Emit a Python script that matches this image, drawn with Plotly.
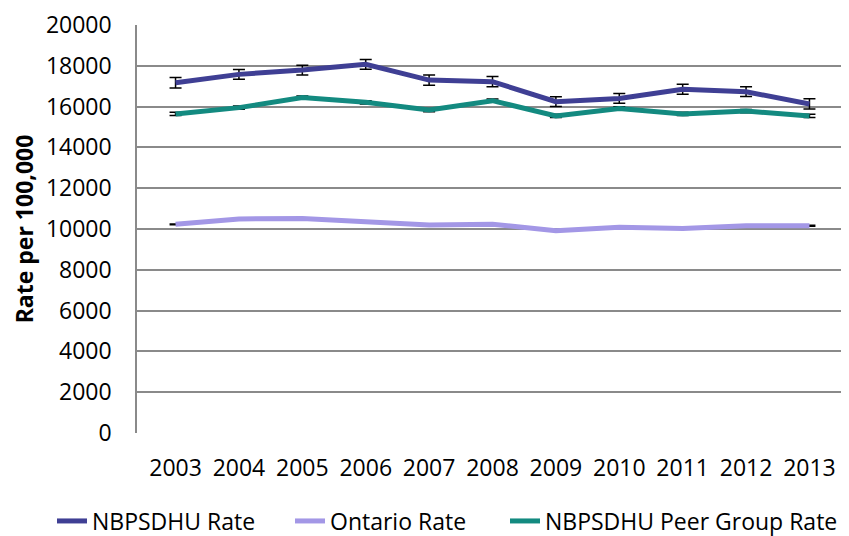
import plotly.graph_objects as go

years = ["2003", "2004", "2005", "2006", "2007", "2008", "2009", "2010", "2011", "2012", "2013"]
nbpsdhu = [17170, 17580, 17790, 18070, 17300, 17220, 16240, 16400, 16850, 16730, 16130]
nbpsdhu_err = [260, 240, 240, 240, 250, 250, 240, 240, 240, 240, 250]
ontario = [10230, 10490, 10520, 10360, 10200, 10230, 9920, 10080, 10030, 10160, 10160]
ontario_err = [20, 20, 20, 20, 20, 20, 20, 20, 20, 20, 20]
peer = [15640, 15950, 16440, 16210, 15830, 16290, 15540, 15910, 15640, 15780, 15540]
peer_err = [80, 80, 80, 80, 80, 80, 80, 80, 80, 80, 80]
y_ticks = [0, 2000, 4000, 6000, 8000, 10000, 12000, 14000, 16000, 18000, 20000]
y_tick_labels = [str(v) for v in y_ticks]

series = [
    ("NBPSDHU Rate", nbpsdhu, nbpsdhu_err, "#3F3F94", "legend"),
    ("Ontario Rate", ontario, ontario_err, "#A397E6", "legend2"),
    ("NBPSDHU Peer Group Rate", peer, peer_err, "#138A80", "legend3"),
]

fig = go.Figure()
for name, vals, err, col, lg in series:
    fig.add_trace(go.Scatter(
        x=years, y=vals, mode="markers",
        marker=dict(size=1, color="rgba(0,0,0,0)"),
        error_y=dict(type="data", array=err, visible=True, color="black", thickness=1.5, width=6),
        showlegend=False, hoverinfo="skip",
    ))
for name, vals, err, col, lg in series:
    fig.add_trace(go.Scatter(
        x=years, y=vals, mode="lines", name=name, legend=lg,
        line=dict(color=col, width=5),
    ))

FIG_W, FIG_H = 841, 528  # page body has an 8px default margin
legend_common = dict(orientation="h", xref="container", yref="container",
                     xanchor="left", yanchor="middle", y=15 / FIG_H,
                     font=dict(size=23), itemwidth=30, bgcolor="rgba(0,0,0,0)")

fig.update_layout(
    width=FIG_W, height=FIG_H,
    margin=dict(l=129, r=1, t=17, b=103, autoexpand=False),
    paper_bgcolor="white", plot_bgcolor="white",
    font=dict(family="Open Sans", size=23, color="black"),
    showlegend=True,
    legend=dict(legend_common, x=44 / FIG_W),
    legend2=dict(legend_common, x=282 / FIG_W),
    legend3=dict(legend_common, x=497 / FIG_W),
)
fig.update_xaxes(
    type="category", showgrid=False, showline=False, ticks="", automargin=False,
    tickfont=dict(size=23), ticklabelstandoff=19,
)
fig.update_yaxes(
    range=[0, 20000], tickvals=y_ticks, ticktext=y_tick_labels, automargin=False,
    showgrid=True, gridcolor="#8A8A8A", gridwidth=1.5,
    showline=True, linecolor="#8A8A8A", linewidth=1.5, zeroline=False, ticks="",
    tickfont=dict(size=23), ticklabelstandoff=19,
    title=dict(text="<b>Rate per 100,000</b>", font=dict(size=23), standoff=6),
)

fig.write_html("out.html")
